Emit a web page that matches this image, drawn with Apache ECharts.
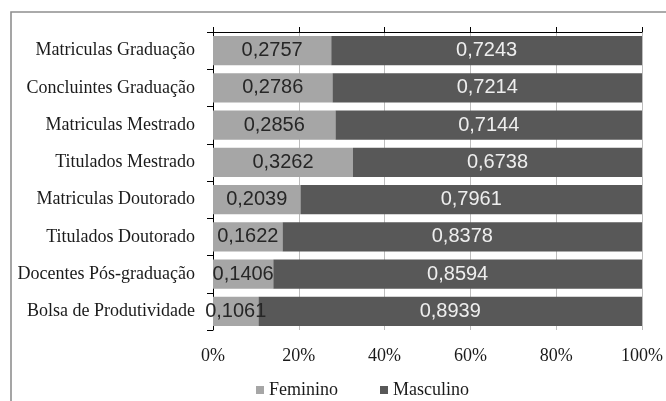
<!DOCTYPE html>
<html>
<head>
<meta charset="utf-8">
<script src="https://cdn.jsdelivr.net/npm/echarts@6/dist/echarts.min.js"></script>
<style>
  html, body { margin: 0; padding: 0; background: #fff; }
  #chart { width: 666px; height: 401px; }
</style>
</head>
<body>
<div id="chart"></div>
<script>
// Share of women and men at each stage of graduate education
const categories = [
  'Matriculas Graduação',
  'Concluintes Graduação',
  'Matriculas Mestrado',
  'Titulados Mestrado',
  'Matriculas Doutorado',
  'Titulados Doutorado',
  'Docentes Pós-graduação',
  'Bolsa de Produtividade'
];
const feminino = [0.2757, 0.2786, 0.2856, 0.3262, 0.2039, 0.1622, 0.1406, 0.1061];
const masculino = [0.7243, 0.7214, 0.7144, 0.6738, 0.7961, 0.8378, 0.8594, 0.8939];
const seriesNames = ['Feminino', 'Masculino'];
const axisTicks = [0, 0.2, 0.4, 0.6, 0.8, 1];

const serif = '"Liberation Serif", "Times New Roman", serif';
const sans = '"Liberation Sans", Arial, sans-serif';

const fmtValue = v => v.toFixed(4).replace('.', ',');

const chart = echarts.init(document.getElementById('chart'), null, { renderer: 'canvas' });

const option = {
  backgroundColor: '#ffffff',
  animation: false,
  textStyle: { fontFamily: serif },
  graphic: [{
    type: 'rect',
    shape: { x: 11, y: 12, width: 720, height: 520 },
    style: { fill: 'none', stroke: '#8f8f8f', lineWidth: 1.6 },
    silent: true,
    z: -1
  }],
  grid: { left: 213, right: 22, top: 32, bottom: 71 },
  legend: {
    data: seriesNames,
    top: 381,
    left: 256,
    padding: 0,
    itemWidth: 8,
    itemHeight: 8,
    itemGap: 42,
    icon: 'rect',
    textStyle: { fontFamily: serif, fontSize: 18, color: '#1a1a1a' }
  },
  xAxis: [{
    type: 'value',
    position: 'top',
    min: axisTicks[0],
    max: axisTicks[axisTicks.length - 1],
    interval: axisTicks[1] - axisTicks[0],
    axisLine: { show: true, lineStyle: { color: '#000', width: 1 } },
    axisTick: { show: true, length: 5, lineStyle: { color: '#000' } },
    axisLabel: { show: false },
    splitLine: { show: true, lineStyle: { color: '#bdbdbd', width: 1 } }
  }, {
    type: 'value',
    position: 'bottom',
    min: axisTicks[0],
    max: axisTicks[axisTicks.length - 1],
    interval: axisTicks[1] - axisTicks[0],
    axisLine: { show: false },
    axisTick: { show: false },
    splitLine: { show: false },
    axisLabel: {
      margin: 17,
      fontFamily: serif,
      fontSize: 18,
      color: '#1a1a1a',
      formatter: v => Math.round(v * 100) + '%'
    }
  }],
  yAxis: {
    type: 'category',
    data: categories,
    inverse: true,
    axisLine: { show: true, lineStyle: { color: '#000', width: 1 } },
    axisTick: { show: true, length: 6, lineStyle: { color: '#000' } },
    axisLabel: {
      margin: 18,
      fontFamily: serif,
      fontSize: 18,
      color: '#1a1a1a'
    }
  },
  series: [{
    name: seriesNames[0],
    type: 'bar',
    stack: 'total',
    xAxisIndex: 0,
    data: feminino,
    barCategoryGap: '21%',
    itemStyle: { color: '#a6a6a6' },
    label: {
      show: true,
      position: 'inside',
      fontFamily: sans,
      fontSize: 20,
      color: '#262626',
      formatter: p => fmtValue(p.value)
    }
  }, {
    name: seriesNames[1],
    type: 'bar',
    stack: 'total',
    xAxisIndex: 0,
    data: masculino,
    barCategoryGap: '21%',
    itemStyle: { color: '#585858' },
    label: {
      show: true,
      position: 'inside',
      fontFamily: sans,
      fontSize: 20,
      color: '#eeeeee',
      formatter: p => fmtValue(p.value)
    }
  }]
};

chart.setOption(option);
</script>
</body>
</html>
